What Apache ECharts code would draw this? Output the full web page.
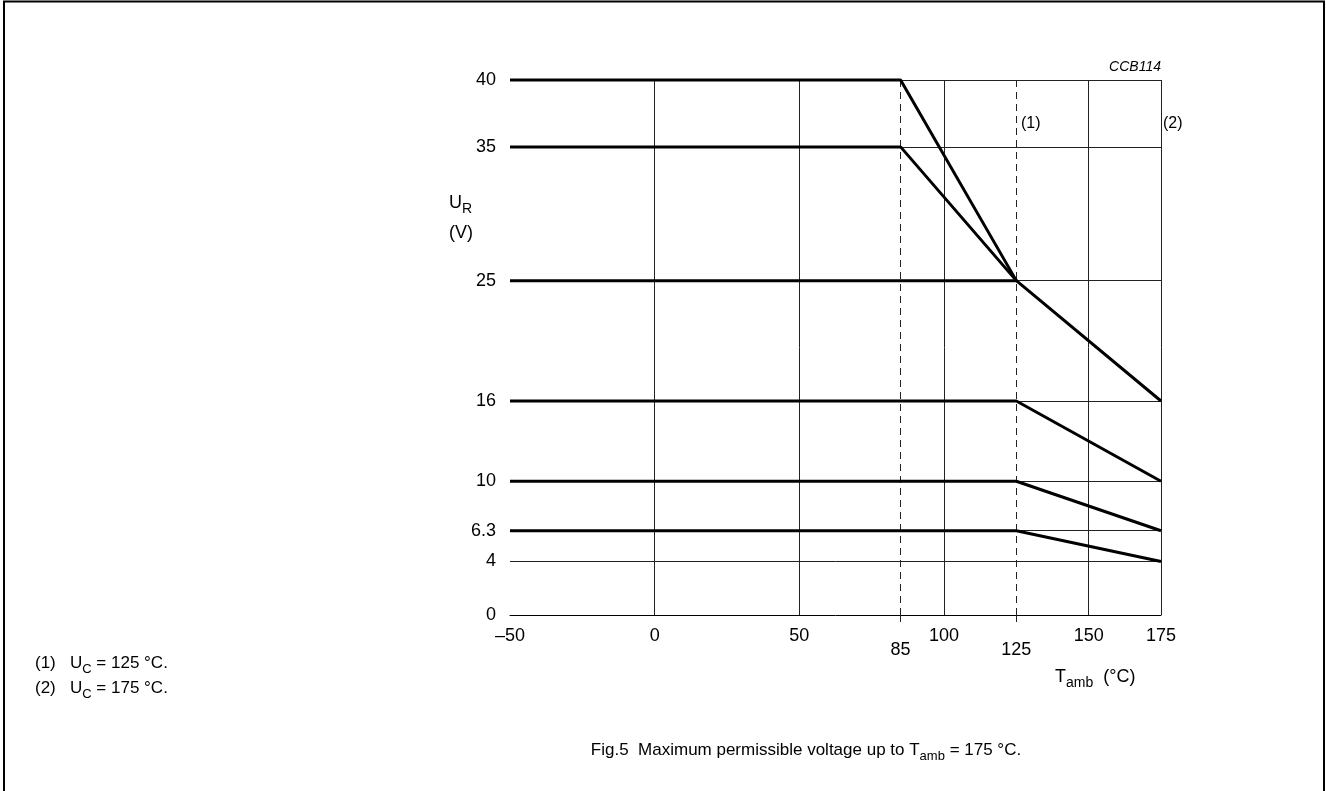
<!DOCTYPE html>
<html><head><meta charset="utf-8">
<script src="https://cdn.jsdelivr.net/npm/echarts@6/dist/echarts.min.js"></script>
<style>html,body{margin:0;padding:0;background:#fff}#c{width:1326px;height:791px}</style>
</head><body><div id="c"></div>
<script>
// ---- data ----
const xTickLabels = [-50, 0, 50, 100, 150, 175];
const xTickLabelsLow = [85, 125];
const yTickLabels = [0, 4, 6.3, 10, 16, 25, 35, 40];
const xGridSolid = [0, 50, 100, 150, 175];
const xGridDashed = [85, 125];
const yGrid = [4, 6.3, 10, 16, 25, 35, 40];
const ur40 = [[-50, 40], [85, 40], [125, 25]];
const ur35 = [[-50, 35], [85, 35], [125, 25]];
const ur25 = [[-50, 25], [125, 25], [175, 16]];
const ur16 = [[-50, 16], [125, 16], [175, 10]];
const ur10 = [[-50, 10], [125, 10], [175, 6.3]];
const ur63 = [[-50, 6.3], [125, 6.3], [175, 4]];
const curves = [ur40, ur35, ur25, ur16, ur10, ur63];

const FONT = '"Liberation Sans", Arial, sans-serif';
const fmt = v => v < 0 ? '\u2013' + Math.abs(v) : String(v);

const gridMarks = []
  .concat(xGridSolid.map(v => ({xAxis: v, lineStyle: {color: '#222', width: 1, type: 'solid'}})))
  .concat(xGridDashed.map(v => ({xAxis: v, lineStyle: {color: '#222', width: 1, type: [7, 5]}})))
  .concat(yGrid.map(v => ({yAxis: v, lineStyle: {color: '#222', width: 1, type: 'solid'}})));

const series = curves.map((c, i) => ({
  type: 'line', data: c, symbol: 'none', clip: false, silent: true,
  lineStyle: {color: '#000', width: 3}, z: 5,
  markLine: i === 0 ? {symbol: 'none', silent: true, label: {show: false}, data: gridMarks, z: 2} : undefined
}));

function mkRich(main, sub, lh, sublh) {
  return {
    m: {fontSize: main, fontFamily: FONT, color: '#000', verticalAlign: 'top', lineHeight: lh},
    s: {fontSize: sub, fontFamily: FONT, color: '#000', verticalAlign: 'bottom', lineHeight: sublh}
  };
}
const axRich = mkRich(18, 14, 22, 2);
const noteRich = mkRich(17, 13, 21, 2);
const capRich = mkRich(17, 13, 21, 2);

const chart = echarts.init(document.getElementById('c'), null, {renderer: 'canvas'});
chart.setOption({
  animation: false,
  backgroundColor: '#fff',
  grid: {left: 510, right: 165, top: 80, bottom: 176, containLabel: false},
  xAxis: [{
    type: 'value', min: -50, max: 175, interval: 25,
    axisLine: {show: true, lineStyle: {color: '#000', width: 1}},
    axisTick: {show: false}, splitLine: {show: false},
    axisLabel: {customValues: xTickLabels, formatter: fmt, margin: 12, color: '#000', fontSize: 18, fontFamily: FONT}
  }, {
    type: 'value', min: -50, max: 175, position: 'bottom',
    axisLine: {show: false}, splitLine: {show: false},
    axisTick: {show: true, customValues: xTickLabelsLow, length: 8, lineStyle: {color: '#222', width: 1, type: [7, 5]}},
    axisLabel: {customValues: xTickLabelsLow, formatter: fmt, margin: 26, color: '#000', fontSize: 18, fontFamily: FONT}
  }],
  yAxis: {
    type: 'value', min: 0, max: 40,
    axisLine: {show: true, lineStyle: {color: '#000', width: 1}},
    axisTick: {show: false}, splitLine: {show: false},
    axisLabel: {customValues: yTickLabels, formatter: fmt, margin: 14, color: '#000', fontSize: 18, fontFamily: FONT}
  },
  series: series,
  graphic: [
    {type: 'rect', shape: {x: 4, y: 1.5, width: 1320, height: 800}, style: {fill: 'none', stroke: '#000', lineWidth: 2}, silent: true},
    {type: 'text', x: 1161, y: 67, style: {text: 'CCB114', font: 'italic 14px ' + FONT, fill: '#000', align: 'right', verticalAlign: 'middle'}},
    {type: 'text', x: 1021, y: 124, style: {text: '(1)', font: '16px ' + FONT, fill: '#000', verticalAlign: 'middle'}},
    {type: 'text', x: 1163, y: 124, style: {text: '(2)', font: '16px ' + FONT, fill: '#000', verticalAlign: 'middle'}},
    {type: 'text', x: 449, y: 194, style: {text: '{m|U}{s|R}', rich: axRich}},
    {type: 'text', x: 449, y: 224, style: {text: '(V)', font: '18px ' + FONT, fill: '#000'}},
    {type: 'text', x: 1055, y: 668, style: {text: '{m|T}{s|amb}{m|  (\u00b0C)}', rich: axRich}},
    {type: 'text', x: 35, y: 655, style: {text: '{m|(1)   U}{s|C}{m| = 125 \u00b0C.}', rich: noteRich}},
    {type: 'text', x: 35, y: 680, style: {text: '{m|(2)   U}{s|C}{m| = 175 \u00b0C.}', rich: noteRich}},
    {type: 'text', x: 806, y: 742, style: {text: '{m|Fig.5  Maximum permissible voltage up to T}{s|amb}{m| = 175 \u00b0C.}', rich: capRich, align: 'center'}}
  ]
});
</script></body></html>
